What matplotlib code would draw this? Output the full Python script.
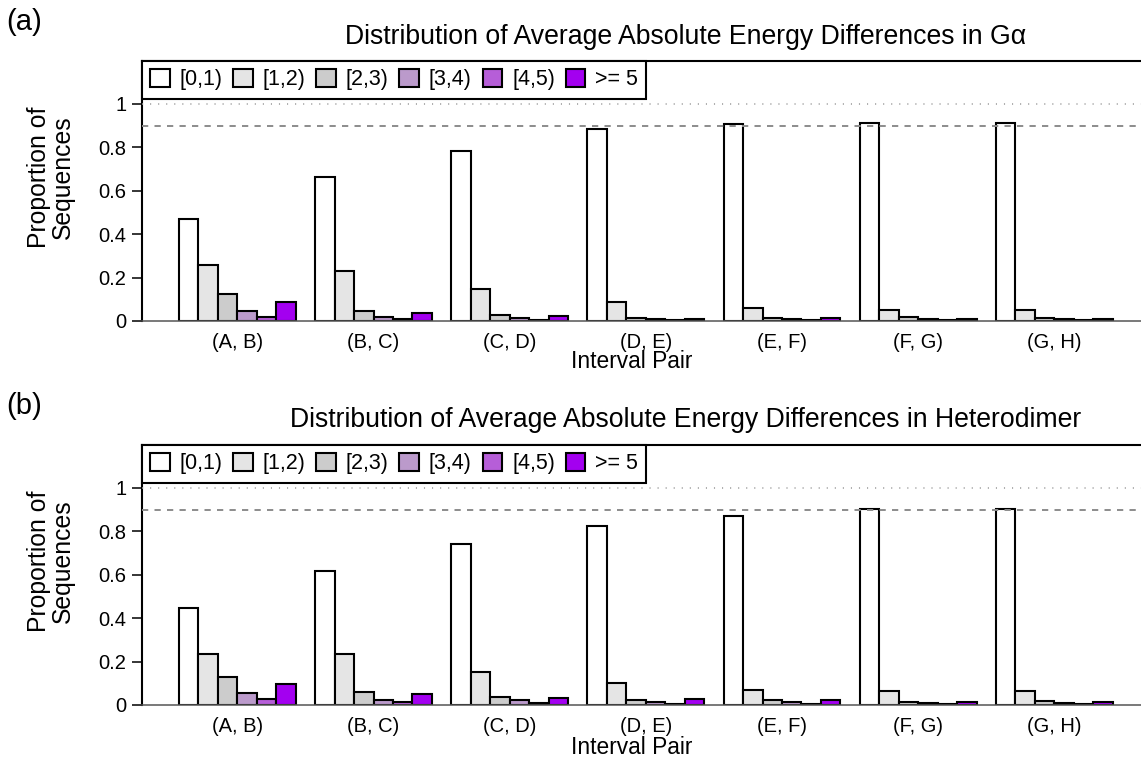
import matplotlib
matplotlib.use('Agg')
import matplotlib.pyplot as plt
import numpy as np

plt.rcParams['font.family'] = ['Liberation Sans', 'DejaVu Sans']
plt.rcParams['lines.scale_dashes'] = False

# categories
pairs = ['(A, B)', '(B, C)', '(C, D)', '(D, E)', '(E, F)', '(F, G)', '(G, H)']
bins = ['[0,1)', '[1,2)', '[2,3)', '[3,4)', '[4,5)', '>= 5']
colors = ['#FFFFFF', '#E5E5E5', '#CCCCCC', '#BB9ACB', '#B65ED8', '#A300F0']

# G-alpha proportions, one list per energy-difference bin
galpha_0_1 = [0.468, 0.661, 0.782, 0.883, 0.905, 0.913, 0.913]
galpha_1_2 = [0.258, 0.229, 0.149, 0.086, 0.060, 0.051, 0.049]
galpha_2_3 = [0.123, 0.046, 0.028, 0.014, 0.012, 0.017, 0.015]
galpha_3_4 = [0.044, 0.018, 0.012, 0.008, 0.008, 0.009, 0.009]
galpha_4_5 = [0.020, 0.011, 0.006, 0.004, 0.004, 0.005, 0.004]
galpha_5up = [0.086, 0.035, 0.021, 0.009, 0.014, 0.009, 0.009]

# heterodimer proportions
hetero_0_1 = [0.446, 0.618, 0.743, 0.826, 0.870, 0.902, 0.902]
hetero_1_2 = [0.236, 0.233, 0.152, 0.100, 0.071, 0.063, 0.063]
hetero_2_3 = [0.131, 0.060, 0.038, 0.023, 0.023, 0.015, 0.017]
hetero_3_4 = [0.055, 0.023, 0.022, 0.015, 0.012, 0.008, 0.009]
hetero_4_5 = [0.029, 0.014, 0.011, 0.006, 0.006, 0.004, 0.005]
hetero_5up = [0.098, 0.052, 0.032, 0.029, 0.022, 0.014, 0.015]

yticks = [0, 0.2, 0.4, 0.6, 0.8, 1]
yticklabels = ['0', '0.2', '0.4', '0.6', '0.8', '1']

W, H = 1141, 767
fig = plt.figure(figsize=(W / 100, H / 100), dpi=100)


def px_axes(left, top, right, bottom):
    return fig.add_axes([left / W, 1 - bottom / H, (right - left) / W, (bottom - top) / H])


def panel(ax, series, title, tag, title_y, tag_y, ylab_y, xlab_y):
    n = len(pairs)
    for i, vals in enumerate(series):
        x = 1 + 7 * np.arange(n) + i
        ax.bar(x, vals, width=1, align='edge', color=colors[i], edgecolor='black',
               linewidth=1.5, label=bins[i], zorder=2)
    ax.set_xlim(-0.92, 50.92)
    ax.set_ylim(0, 1.197)
    ax.axhline(1.0, color='#999999', lw=1.1, dashes=(0.8, 5), zorder=3)
    ax.axhline(0.9, color='#8c8c8c', lw=1.4, dashes=(4.5, 4.5), zorder=3)

    ax.set_yticks(yticks)
    ax.set_yticklabels(yticklabels, fontsize=14.5)
    ax.set_xticks(4 + 7 * np.arange(n))
    ax.set_xticklabels(pairs, fontsize=14.5)
    ax.tick_params(axis='y', length=7, width=1.1, pad=4)
    ax.tick_params(axis='x', length=0, pad=9)

    ax.spines['right'].set_visible(False)
    for s in ['left', 'top']:
        ax.spines[s].set_linewidth(1.5)
    ax.spines['bottom'].set_linewidth(1.1)
    ax.spines['bottom'].set_color('#555555')

    leg = ax.legend(ncol=6, loc='upper left', bbox_to_anchor=(0, 1), borderaxespad=0,
                    fontsize=15.5, fancybox=False, framealpha=1, edgecolor='black',
                    handlelength=0.92, handleheight=0.88, handletextpad=0.45,
                    columnspacing=0.5, borderpad=0.38)
    leg.get_frame().set_linewidth(1.5)
    leg.set_zorder(5)

    fig.text(686 / W, 1 - title_y / H, title, ha='center', va='center', fontsize=19.2)
    fig.text(6 / W, 1 - tag_y / H, tag, ha='left', va='center', fontsize=21)
    fig.text(51 / W, 1 - ylab_y / H, 'Proportion of\nSequences', ha='center', va='center',
             rotation=90, fontsize=17.8, linespacing=0.95)
    fig.text(632 / W, 1 - xlab_y / H, 'Interval Pair', ha='center', va='center', fontsize=16.4)


ax1 = px_axes(141.7, 61, 1150, 321)
panel(ax1, [galpha_0_1, galpha_1_2, galpha_2_3, galpha_3_4, galpha_4_5, galpha_5up],
      'Distribution of Average Absolute Energy Differences in G\u03b1', '(a)', 37, 22, 177, 362)

ax2 = px_axes(141.7, 445, 1150, 705)
panel(ax2, [hetero_0_1, hetero_1_2, hetero_2_3, hetero_3_4, hetero_4_5, hetero_5up],
      'Distribution of Average Absolute Energy Differences in Heterodimer', '(b)', 420, 406, 561, 748)

fig.savefig('out.png', dpi=100)
